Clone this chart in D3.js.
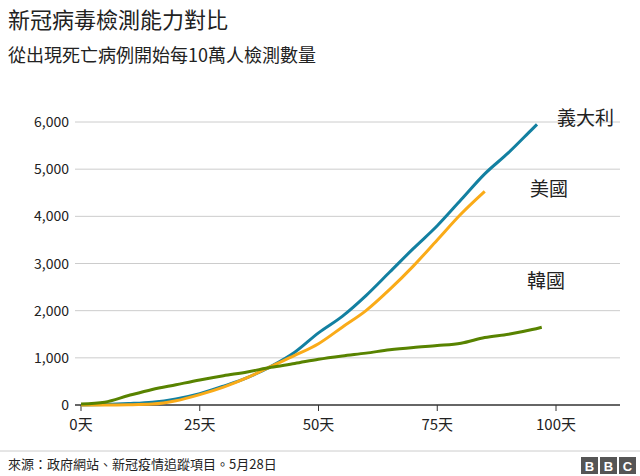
<!DOCTYPE html>
<html><head><meta charset="utf-8">
<script src="https://cdn.jsdelivr.net/npm/d3@7"></script>
<style>body{margin:0;background:#fff;font-family:"Noto Sans CJK TC","Noto Sans",sans-serif}</style>
</head><body><svg id="c" width="640" height="476"></svg>
<script>
// days since first death, tests per 100k
var days = [0,5,10,15,20,25,30,35,40,45,50,55,60,65,70,75,80,85,90,95];
var italy = [0,10,30,60,130,240,400,580,820,1120,1530,1880,2320,2820,3320,3800,4350,4900,5350,5850];
var usa = [0,0,5,20,90,220,380,580,820,1050,1300,1650,2000,2450,2950,3500,4050,4530];
var korea = [20,60,200,330,430,530,620,700,800,880,970,1040,1100,1170,1220,1260,1310,1430,1500,1600];
var yTicks = [0,1000,2000,3000,4000,5000,6000];
var xTicks = [0,25,50,75,100];

var series = [
  {name:"義大利", color:"#1380A1", pts: days.map((d,i)=>[d,italy[i]]).concat([[96,5950]]), lx:557, ly:125},
  {name:"美國", color:"#FAAB18", pts: usa.map((v,i)=>[days[i],v]), lx:530, ly:196},
  {name:"韓國", color:"#588300", pts: days.map((d,i)=>[d,korea[i]]).concat([[97,1650]]), lx:527, ly:288}
];

var svg = d3.select("#c");
var x = d3.scaleLinear().domain([0,100]).range([81,556]);
var y = d3.scaleLinear().domain([0,6000]).range([405,122]);

svg.append("text").attr("x",8).attr("y",28).attr("font-size",22).attr("fill","#222").text("新冠病毒檢測能力對比");
svg.append("text").attr("x",8).attr("y",62).attr("font-size",18).attr("fill","#222").text("從出現死亡病例開始每10萬人檢測數量");

svg.append("g").selectAll("line").data(yTicks.slice(1)).join("line")
  .attr("x1",75).attr("x2",620).attr("y1",d=>y(d)).attr("y2",d=>y(d))
  .attr("stroke","#ccc");
svg.append("g").selectAll("text").data(yTicks).join("text")
  .attr("x",69).attr("y",d=>y(d)+5).attr("text-anchor","end").attr("font-size",14).attr("fill","#222")
  .text(d3.format(","));

svg.append("line").attr("x1",75).attr("x2",620).attr("y1",405).attr("y2",405).attr("stroke","#333").attr("stroke-width",1.5);
var xa = svg.append("g").selectAll("g").data(xTicks).join("g").attr("transform",d=>`translate(${x(d)},405)`);
xa.append("line").attr("y2",6).attr("stroke","#333");
xa.append("text").attr("y",25).attr("text-anchor","middle").attr("font-size",15).attr("fill","#222").text(d=>d+"天");

var line = d3.line().x(d=>x(d[0])).y(d=>y(d[1])).curve(d3.curveMonotoneX);
series.forEach(function(s){
  svg.append("path").attr("d",line(s.pts)).attr("fill","none").attr("stroke",s.color).attr("stroke-width",3);
  svg.append("text").attr("x",s.lx).attr("y",s.ly).attr("font-size",19).attr("fill","#222").text(s.name);
});

svg.append("line").attr("x1",0).attr("x2",640).attr("y1",451).attr("y2",451).attr("stroke","#ccc");
svg.append("text").attr("x",8).attr("y",469).attr("font-size",13).attr("fill","#222").text("來源：政府網站、新冠疫情追蹤項目。5月28日");
var b = svg.append("g").selectAll("g").data(["B","B","C"]).join("g").attr("transform",(d,i)=>`translate(${581+i*19},457)`);
b.append("rect").attr("width",17).attr("height",17).attr("fill","#555");
b.append("text").attr("x",8.5).attr("y",13.5).attr("text-anchor","middle").attr("font-size",13).attr("font-weight","bold").attr("fill","#fff").attr("font-family","Liberation Sans").text(d=>d);
</script></body></html>
